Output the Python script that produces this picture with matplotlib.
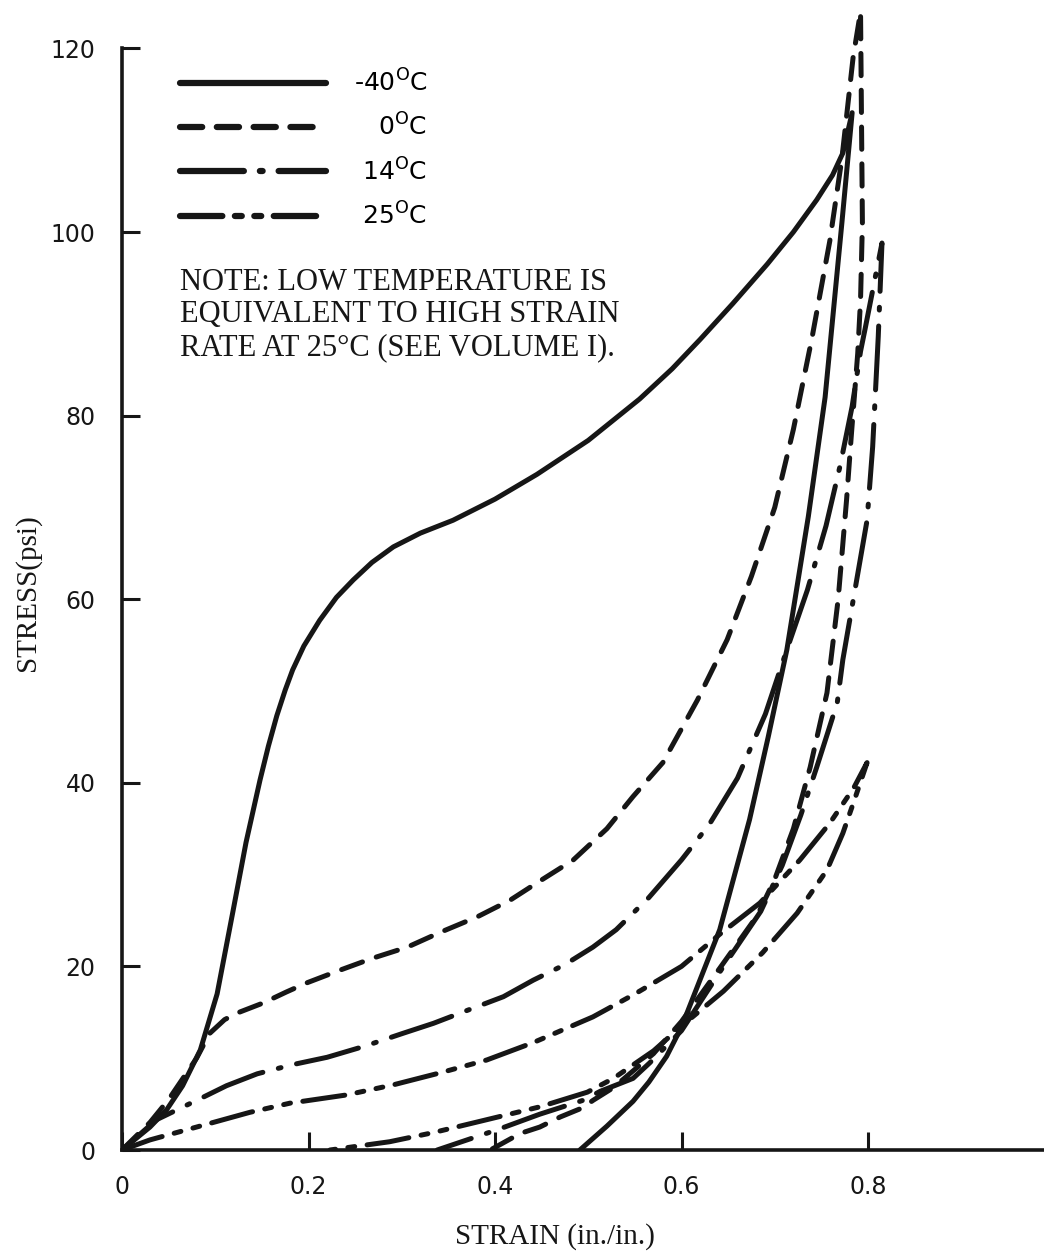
import numpy as np
import matplotlib
matplotlib.use("Agg")
import matplotlib.pyplot as plt

plt.rcParams["lines.scale_dashes"] = False
plt.rcParams["mathtext.fontset"] = "dejavusans"
plt.rcParams["font.family"] = ["DejaVu Sans"]

# -40 C loop (loading then unloading)
strain_m40_load = [0, 0.03, 0.048, 0.065, 0.084, 0.102, 0.119, 0.133, 0.148, 0.157, 0.166, 0.175,
                   0.183, 0.195, 0.212, 0.23, 0.248, 0.268, 0.291, 0.32, 0.355, 0.4, 0.445,
                   0.5, 0.555, 0.59, 0.62, 0.655, 0.692, 0.72, 0.745, 0.762, 0.773, 0.783]
stress_m40_load = [0, 2.5, 4.4, 7.0, 10.9, 17.0, 26.0, 33.5, 40.3, 44.0, 47.3, 50.1,
                   52.3, 54.9, 57.7, 60.2, 62.1, 64.0, 65.7, 67.2, 68.6, 70.9, 73.6,
                   77.3, 81.8, 85.1, 88.3, 92.2, 96.5, 100.0, 103.5, 106.2, 108.6, 113.0]
strain_m40_unload = [0.772, 0.754, 0.736, 0.713, 0.693, 0.673, 0.641, 0.60, 0.584, 0.565,
                     0.548, 0.52, 0.491]
stress_m40_unload = [101.0, 82.0, 69.0, 54.5, 45.0, 36.0, 24.0, 13.4, 10.2, 7.4,
                     5.3, 2.6, 0.0]

# 0 C loop
strain_0_load = [0, 0.03, 0.05, 0.08, 0.094, 0.11, 0.123, 0.151, 0.176, 0.198, 0.234, 0.269,
                 0.306, 0.341, 0.381, 0.416, 0.445, 0.484, 0.52, 0.548, 0.58, 0.617, 0.649,
                 0.675, 0.70, 0.72, 0.74, 0.759, 0.772, 0.784, 0.792]
stress_0_load = [0, 3.0, 5.5, 10.0, 12.7, 14.2, 14.9, 16.0, 17.2, 18.2, 19.6, 20.9,
                 22.1, 23.7, 25.4, 27.2, 29.1, 31.6, 35.0, 38.5, 42.2, 49.0, 55.6,
                 62.5, 70.0, 78.5, 88.5, 99.0, 108.0, 119.0, 124.0]
strain_0_unload = [0.794, 0.792, 0.789, 0.782, 0.777, 0.768, 0.756, 0.738, 0.72, 0.70, 0.681,
                   0.641, 0.60, 0.57, 0.527, 0.505, 0.494, 0.47, 0.448, 0.427, 0.395]
stress_0_unload = [101.0, 92.6, 86.8, 77.7, 70.8, 60.0, 49.8, 41.7, 35.0, 29.5, 25.5,
                   19.8, 14.0, 10.5, 6.8, 5.4, 4.6, 3.6, 2.5, 1.8, 0.0]

# 14 C loop
strain_14_load = [0, 0.037, 0.084, 0.112, 0.145, 0.183, 0.22, 0.26, 0.301, 0.334, 0.37, 0.409,
                  0.441, 0.475, 0.505, 0.53, 0.565, 0.60, 0.63, 0.66, 0.69, 0.713, 0.735,
                  0.755, 0.77, 0.783, 0.792, 0.797, 0.815]
stress_14_load = [0, 3.3, 5.6, 7.0, 8.3, 9.3, 10.1, 11.3, 12.7, 13.8, 15.2, 16.7,
                  18.5, 20.2, 22.1, 24.0, 27.5, 31.6, 35.5, 40.5, 47.5, 54.5, 61.0,
                  68.0, 74.5, 81.0, 87.0, 89.5, 98.8]
strain_14_unload = [0.811, 0.805, 0.799, 0.786, 0.773, 0.767, 0.745, 0.728, 0.708, 0.685,
                    0.645, 0.60, 0.566, 0.548, 0.513, 0.494, 0.448, 0.405, 0.338]
stress_14_unload = [88.6, 76.6, 68.6, 61.0, 53.4, 48.7, 41.7, 36.5, 31.0, 26.0,
                    20.0, 13.0, 9.5, 7.8, 6.4, 5.4, 3.9, 2.3, 0.0]

# 25 C loop
strain_25_load = [0, 0.03, 0.08, 0.137, 0.18, 0.241, 0.291, 0.341, 0.391, 0.441, 0.505, 0.55,
                  0.60, 0.641, 0.684, 0.727, 0.759, 0.785, 0.799]
stress_25_load = [0, 1.1, 2.5, 4.1, 5.1, 6.0, 7.1, 8.4, 9.8, 11.7, 14.5, 17.0,
                  20.0, 23.5, 26.9, 31.6, 35.6, 39.5, 42.2]
strain_25_unload = [0.785, 0.773, 0.756, 0.724, 0.687, 0.645, 0.60, 0.57, 0.527, 0.499,
                    0.448, 0.387, 0.334, 0.287, 0.223]
stress_25_unload = [38.0, 34.5, 30.5, 25.8, 21.5, 17.3, 13.5, 10.8, 7.8, 6.3,
                    4.7, 3.2, 1.9, 0.9, 0.0]

labels = ["-40$^{\\rm O}$C",
          "\u2007\u2004" + "0$^{\\rm O}$C",
          "\u2004" + "14$^{\\rm O}$C",
          "\u2004" + "25$^{\\rm O}$C"]

loops = [
    (strain_m40_load + strain_m40_unload, stress_m40_load + stress_m40_unload, "-"),
    (strain_0_load + strain_0_unload, stress_0_load + stress_0_unload, (0, (16, 10.5))),
    (strain_14_load + strain_14_unload, stress_14_load + stress_14_unload, (0, (46, 11.5, 2, 11.5))),
    (strain_25_load + strain_25_unload, stress_25_load + stress_25_unload, (0, (30.5, 9, 5, 9, 5, 9))),
]

ink = "#161616"

fig = plt.figure(figsize=(10.44, 12.53), dpi=100)
ax = fig.add_axes([122 / 1044, 103 / 1253, 922 / 1044, 1147.5 / 1253])

for (x, y, ls), lab in zip(loops, labels):
    ax.plot(x, y, color=ink, lw=3.6, linestyle=ls, label=lab,
            dash_capstyle="round", solid_capstyle="round", solid_joinstyle="round")

ax.set_xlim(0, 922 / 932.5)
ax.set_ylim(0, 125)

for side in ["top", "right"]:
    ax.spines[side].set_visible(False)
for side in ["left", "bottom"]:
    ax.spines[side].set_linewidth(2.6)
    ax.spines[side].set_color(ink)
ax.spines["left"].set_bounds(0, 120)

ax.set_xticks([0, 0.2, 0.4, 0.6, 0.8])
ax.set_xticklabels(["0", "0.2", "0.4", "0.6", "0.8"])
ax.set_yticks([0, 20, 40, 60, 80, 100, 120])
ax.tick_params(direction="in", length=13, width=2.2, colors=ink, labelsize=17)
ax.tick_params(axis="x", pad=18)
ax.tick_params(axis="y", pad=19)

ax.set_xlabel("STRAIN (in./in.)", family="Liberation Serif", fontsize=21, color=ink)
ax.xaxis.set_label_coords(0.47, -0.064)
ax.set_ylabel("STRESS(psi)", family="Liberation Serif", fontsize=21, color=ink)
ax.yaxis.set_label_coords(-0.088, 0.486)

ax.text(0.0629, 0.769,
        "NOTE: LOW TEMPERATURE IS\nEQUIVALENT TO HIGH STRAIN\nRATE AT 25\u00b0C (SEE VOLUME I).",
        transform=ax.transAxes, family="Liberation Serif", fontsize=22,
        va="top", ha="left", linespacing=1.17, color=ink)

leg = ax.legend(loc="upper left", bbox_to_anchor=(0.0629, 0.9415), frameon=False,
                fontsize=18, handlelength=5.85, handletextpad=1.1, labelspacing=0.68,
                borderpad=0, borderaxespad=0)
for line in leg.get_lines():
    line.set_linewidth(4.5)

fig.savefig("out.png", dpi=100)
